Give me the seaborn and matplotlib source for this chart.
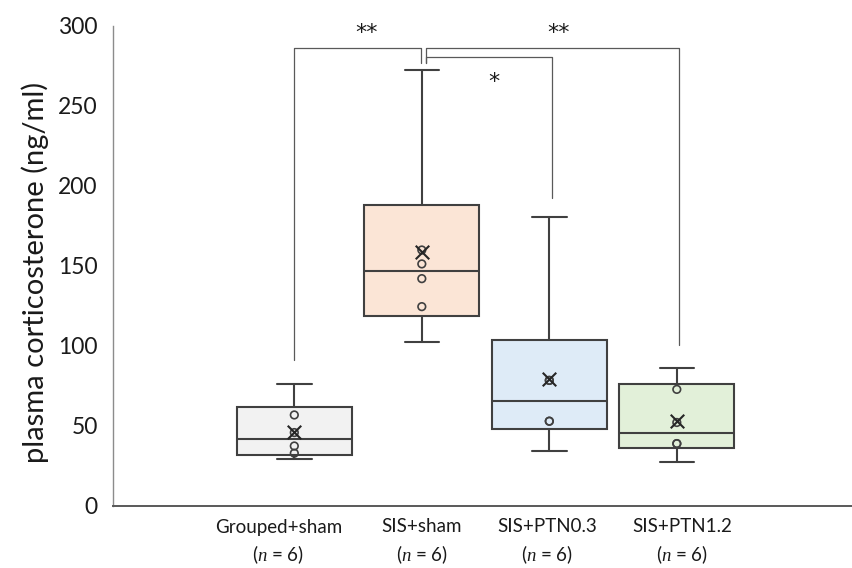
import numpy as np
import pandas as pd
import matplotlib
matplotlib.use("Agg")
import matplotlib.pyplot as plt
import seaborn as sns

# ---- data -------------------------------------------------------------
groups = ["Grouped+sham", "SIS+sham", "SIS+PTN0.3", "SIS+PTN1.2"]
group_n = [6, 6, 6, 6]
grouped_sham = [29.2, 33.0, 37.5, 45.9, 56.9, 76.1]
sis_sham = [102.3, 124.6, 142.1, 151.3, 160.0, 272.3]
sis_ptn03 = [34.4, 53.0, 53.0, 78.5, 78.5, 180.4]
sis_ptn12 = [27.7, 39.0, 39.0, 52.2, 72.9, 86.3]
fill_colors = ["#F2F2F2", "#FBE5D6", "#DEEBF7", "#E2F0D9"]
y_ticks = [0, 50, 100, 150, 200, 250, 300]
comparisons = [
    ("Grouped+sham", "SIS+sham", "**"),
    ("SIS+sham", "SIS+PTN1.2", "**"),
    ("SIS+sham", "SIS+PTN0.3", "*"),
]

values = [grouped_sham, sis_sham, sis_ptn03, sis_ptn12]
df = pd.DataFrame(
    [(g, v) for g, vals in zip(groups, values) for v in vals],
    columns=["group", "cort"],
)
df["pos"] = df["group"].map({g: i for i, g in enumerate(groups)})

# ---- style ------------------------------------------------------------
sns.set_theme(style="white")
plt.rcParams["font.family"] = ["Lato", "DejaVu Sans"]
plt.rcParams["mathtext.fontset"] = "custom"
plt.rcParams["mathtext.rm"] = "Lato"
plt.rcParams["mathtext.it"] = "Liberation Serif:italic"

EDGE = "#404040"
TEXT = "#1a1a1a"


def quartile_exc(v, q):
    """Exclusive-method quartile (position q*(n+1))."""
    v = np.sort(np.asarray(v, float))
    n = len(v)
    pos = q * (n + 1)
    k = int(np.floor(pos))
    frac = pos - k
    k = min(max(k, 1), n)
    if k >= n:
        return v[-1]
    return v[k - 1] + frac * (v[k] - v[k - 1])


stats = []
inner_rows = []
for g, vals in zip(groups, values):
    v = np.sort(np.asarray(vals, float))
    q1, med, q3 = quartile_exc(v, 0.25), np.median(v), quartile_exc(v, 0.75)
    iqr = q3 - q1
    lo = v[v >= q1 - 1.5 * iqr].min()
    hi = v[v <= q3 + 1.5 * iqr].max()
    stats.append(dict(med=med, q1=q1, q3=q3, whislo=lo, whishi=hi,
                      mean=v.mean(), fliers=[], label=g))
    for x in v[(v > lo) & (v < hi)]:
        inner_rows.append((groups.index(g), x))

inner = pd.DataFrame(inner_rows, columns=["pos", "cort"])
means = df.groupby("pos", as_index=False)["cort"].mean()

# ---- figure -----------------------------------------------------------
fig = plt.figure(figsize=(8.52, 5.68), dpi=100)
ax = fig.add_axes([113 / 852, 1 - 506 / 568, 1 - 113 / 852, 480 / 568])

line_kw = dict(color=EDGE, linewidth=1.5)
bp = ax.bxp(stats, positions=range(len(groups)), widths=0.9,
            capwidths=0.27, patch_artist=True, showfliers=False,
            boxprops=dict(edgecolor=EDGE, linewidth=1.5),
            whiskerprops=line_kw, capprops=line_kw, medianprops=line_kw)
for patch, c in zip(bp["boxes"], fill_colors):
    patch.set_facecolor(c)

# inner data points (hollow circles) and group means (x)
sns.scatterplot(data=inner, x="pos", y="cort", ax=ax, marker="o", s=30,
                facecolor="none", edgecolor=EDGE, linewidth=1.2, zorder=4,
                legend=False)
sns.scatterplot(data=means, x="pos", y="cort", ax=ax, marker="x", s=95,
                color="#262626", linewidth=1.5, zorder=5, legend=False)

# ---- axes -------------------------------------------------------------
ax.set_ylim(0, 300)
ax.set_xlim(-1.422, 4.374)
ax.set_yticks(y_ticks)
ax.set_yticklabels([str(t) for t in y_ticks], fontsize=16.5, color=TEXT)
label_pos = [-0.125, 1.0, 1.98, 3.04]
ax.set_xticks(label_pos)
ax.set_xticklabels([f"{g}\n($\\mathit{{n}}$ = {n})" for g, n in zip(groups, group_n)],
                   fontsize=13.5, color=TEXT, linespacing=1.45)
ax.tick_params(axis="y", length=0, pad=11)
ax.tick_params(axis="x", length=0, pad=9)
ax.set_xlabel("")
ax.set_ylabel("")
for side in ["top", "right"]:
    ax.spines[side].set_visible(False)
ax.spines["left"].set_color("#8c8c8c")
ax.spines["left"].set_linewidth(1.0)
ax.spines["bottom"].set_color("#595959")
ax.spines["bottom"].set_linewidth(1.4)

fig.text(35 / 852, 1 - 272 / 568, "plasma corticosterone (ng/ml)",
         rotation=90, ha="center", va="center", fontsize=21, color=TEXT)

# ---- significance brackets -------------------------------------------
BR = "#595959"
idx = {g: i for i, g in enumerate(groups)}
bracket_geom = {
    ("Grouped+sham", "SIS+sham"): dict(dx0=0.0, dx1=-0.008, top=286.3,
                                       end0=91.0, end1=277.0, tx=0.57, ty=292),
    ("SIS+sham", "SIS+PTN1.2"): dict(dx0=0.03, dx1=0.015, top=286.4,
                                     end0=277.0, end1=100.6, tx=2.07, ty=292),
    ("SIS+sham", "SIS+PTN0.3"): dict(dx0=0.03, dx1=0.025, top=280.6,
                                     end0=277.0, end1=192.5, tx=1.566, ty=261),
}
for a, b, label in comparisons:
    gm = bracket_geom[(a, b)]
    x0 = idx[a] + gm["dx0"]
    x1 = idx[b] + gm["dx1"]
    ax.plot([x0, x0, x1, x1], [gm["end0"], gm["top"], gm["top"], gm["end1"]],
            color=BR, linewidth=0.9, clip_on=False, zorder=3)
    ax.text(gm["tx"], gm["ty"], label, ha="center", va="baseline",
            fontsize=16, color=TEXT, family="DejaVu Sans", clip_on=False)

fig.savefig("out.png", dpi=100)
